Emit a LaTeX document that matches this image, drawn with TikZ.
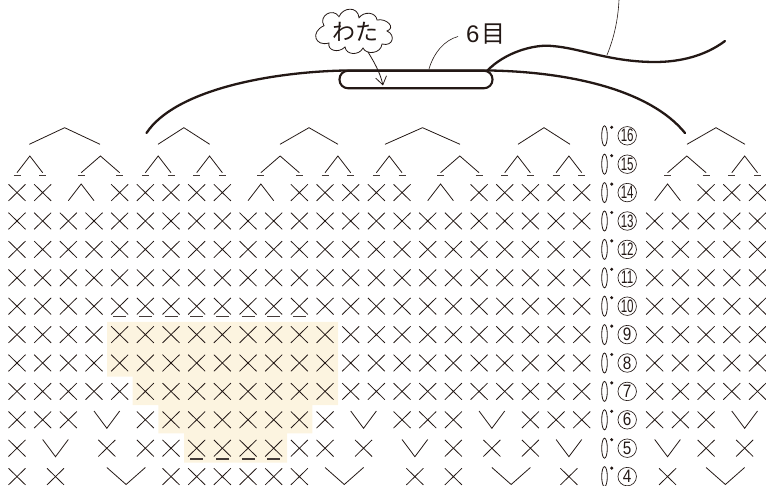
\documentclass[tikz,border=0pt]{standalone}
\usepackage{fontspec}
\usepackage{graphicx}
\setmainfont{Liberation Sans}
\newfontfamily\jpfont{Noto Sans CJK JP}
\usetikzlibrary{arrows.meta}
\definecolor{ink}{HTML}{231815}
\definecolor{wash}{HTML}{FCF4E0}
\tikzset{
  st/.style={draw=ink,line width=0.8pt},
  underbar/.style={draw=ink!85,line width=1.1pt},
  yarn/.style={draw=ink,line width=2.3pt,line cap=round},
  leader/.style={draw=ink,line width=0.6pt},
  num/.style={circle,draw=ink,line width=0.65pt,inner sep=0pt,minimum size=18.5pt,font=\fontsize{18}{18}\selectfont,text=ink},
}
\newcommand\stX[2]{\draw[st] ({#1-8.5},{#2-8.3}) -- ({#1+8.5},{#2+8.3}) ({#1-8.5},{#2+8.3}) -- ({#1+8.5},{#2-8.3});}
\newcommand\stL[4]{\draw[st] ({#1},{#4}) -- ({((#1)+(#2))/2},{#3}) -- ({#2},{#4});}
\newcommand\stB[3]{\draw[underbar] ({#1-#3},{#2}) -- ({#1+#3},{#2});}
\newcommand\cL{17+25.67*}
\newcommand\cR{654.7+25.7*}
\begin{document}
\begin{tikzpicture}[x=1pt,y=-1pt]
\useasboundingbox (0,0) rectangle (766,486);
% shaded area
\fill[wash] (107,322) -- (338,322) -- (338,405) -- (312.3,405) -- (312.3,433.3) -- (287,433.3) -- (287,462.7) -- (184,462.7) -- (184,433.3) -- (158.3,433.3) -- (158.3,405) -- (132.7,405) -- (132.7,376.7) -- (107,376.7) -- cycle;
% full rows of X
\foreach \y in {221,249.4,277.8,306.2,334.6,363,391.4}{
  \foreach \i in {0,...,22}{\stX{\cL\i}{\y}}
  \foreach \j in {0,...,4}{\stX{\cR\j}{\y}}
}
% row 10 underbars
\foreach \i in {4,...,11}{\stB{\cL\i}{316.7}{6.5}}
% row 14
\foreach \i in {0,1,4,5,6,7,8,11,12,13,14,15,18,19,20,21,22}{\stX{\cL\i}{192.6}}
\foreach \j in {2,3,4}{\stX{\cR\j}{192.6}}
\foreach \a/\b in {2/3,9/10,16/17}{\stL{\cL\a}{\cL\b}{184}{200.7}}
\stL{\cR0}{\cR1}{184}{200.7}
% row 15
\foreach \a/\b in {0/1,2.5/4,5/6,7/8,9.5/11,12/13,14/15,16.5/18,19/20,21/22}{
  \stL{\cL\a}{\cL\b}{156}{172.7}
  \stB{\cL\a}{175.7}{3.5}\stB{\cL\b}{175.7}{3.5}}
\foreach \a/\b in {0.5/2,3/4}{
  \stL{\cR\a}{\cR\b}{156}{172.7}
  \stB{\cR\a}{175.7}{3.5}\stB{\cR\b}{175.7}{3.5}}
% row 16
\foreach \a/\b in {29.3/100,158/209.7,280/338,385/460,518/570,687/745}{\stL{\a}{\b}{127.7}{144.3}}
% row 6
\foreach \i in {0,1,2,5,6,7,8,9,10,11,12,15,16,17,20,21,22}{\stX{\cL\i}{419.8}}
\foreach \j in {0,1,2}{\stX{\cR\j}{419.8}}
\foreach \a/\b in {3/4,13/14,18/19}{\stL{\cL\a}{\cL\b}{428.3}{411}}
\stL{\cR3}{\cR4}{428.3}{411}
% row 5
\foreach \i in {0,3.5,5,6,7,8,9,10,11,12,13.5,17,18.5,20}{\stX{\cL\i}{448.2}}
\foreach \j in {2,3.5}{\stX{\cR\j}{448.2}}
\foreach \a/\b in {1/2,15/16,21/22}{\stL{\cL\a}{\cL\b}{456.7}{439.5}}
\stL{\cR0}{\cR1}{456.7}{439.5}
\foreach \i in {7,8,9,10}{\stB{\cL\i}{459}{6.5}}
% row 4
\foreach \i in {0,1.5,6,7,8,9,10,11,15.5,17,21.5}{\stX{\cL\i}{476.6}}
\stX{\cR0.5}{476.6}
\foreach \a/\b in {3.5/5,12/13.5,18.5/20}{\stL{\cL\a}{\cL\b}{484.5}{467.5}}
\stL{\cR2}{\cR3.5}{484.5}{467.5}
% row markers
\foreach \r in {4,...,16}{
  \pgfmathsetmacro\ry{192.6+(14-\r)*28.4}
  \draw[st] (604.5,\ry) ellipse [x radius=2.8,y radius=10];
  \fill[ink] (611.7,\ry-8.5) circle [radius=1.7];
  \node[num] (c\r) at (627.2,\ry) {\ifnum\r>9 \scalebox{0.64}[1]{\r}\else\scalebox{0.85}[1]{\r}\fi};
}
% yarn
\node[draw=ink,line width=2.1pt,rounded corners=8.5pt,minimum width=153pt,minimum height=17.5pt,inner sep=0pt] (wad) at (416,79.5) {};
\draw[yarn] (146.5,133) .. controls (175,90) and (270,72) .. (345,70.5) -- (490,70.5) .. controls (570,72) and (650,90) .. (685,133);
\draw[yarn] (487,71) .. controls (505,52) and (535,44) .. (552,46) .. controls (580,48) and (610,62) .. (655,62) .. controls (680,62) and (705,56) .. (725,41);
% 6 label
\node[text=ink,anchor=west,inner sep=0pt,font=\fontsize{24}{24}\selectfont] (six) at (466,34) {6\kern1.5pt\jpfont 目};
\coordinate (sixfoot) at (429,69);
\draw[leader] (sixfoot) .. controls (434,52) and (445,40) .. (458,36.5);
\coordinate (topend) at (619,0);
\coordinate (wavept) at (607,55);
\draw[leader] (topend) .. controls (618,20) and (614,38) .. (wavept);
% cloud
\draw[draw=ink,line width=0.8pt,fill=white] (324,25.7)
  .. controls (318,16) and (333,7) .. (339,16.7)
  .. controls (343,7) and (358,6) .. (359,17.7)
  .. controls (364,11) and (376,12) .. (377,20)
  .. controls (387,18) and (396,28) .. (387,31)
  .. controls (396,35) and (393,47) .. (382,44)
  .. controls (381,54) and (366,55) .. (363,48)
  .. controls (359,56) and (346,55) .. (345,47)
  .. controls (338,54) and (327,50) .. (329,43)
  .. controls (315,47) and (310,32) .. (324,25.7) -- cycle;
\node[text=ink,inner sep=0pt,font=\jpfont\fontsize{23}{23}\selectfont] (cloudtext) at (355,32) {わた};
\coordinate (cloudtail) at (368,52);
\coordinate (wadpt) at (383,85.5);
\draw[leader,line width=0.8pt,-{Straight Barb[length=8pt,width=11pt,line width=0.8pt]}] (cloudtail) .. controls (374,62) and (380,72) .. (wadpt);
\end{tikzpicture}
\end{document}
